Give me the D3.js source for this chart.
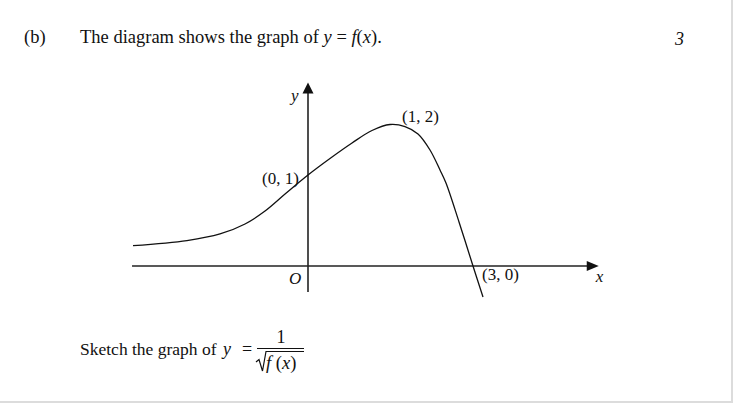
<!DOCTYPE html>
<html>
<head>
<meta charset="utf-8">
<script src="https://cdn.jsdelivr.net/npm/d3@7"></script>
<style>
  html, body { margin: 0; padding: 0; background: #fff; }
  svg { display: block; }
  text { font-family: "Liberation Serif", "DejaVu Serif", serif; fill: #111; }
</style>
</head>
<body>
<svg id="chart" width="733" height="403"></svg>
<script>
// Curve of y = f(x) as sketched (sketch is not to scale; scales are piecewise)
const curveX = [-2.134, -1.476, -1.073, -0.768, -0.524, -0.280, 0, 0.268, 0.537, 0.780, 1, 1.361, 1.675, 1.964, 2.205, 2.349, 2.663, 3, 3.241];
const curveY = [0.223, 0.280, 0.352, 0.462, 0.604, 0.791, 1, 1.327, 1.634, 1.881, 2, 1.960, 1.812, 1.495, 1.099, 0.912, 0.484, 0, -0.341];
// Key points labelled on the sketch
const keyPoints = [
  { x: 0, y: 1, label: "(0, 1)" },
  { x: 1, y: 2, label: "(1, 2)" },
  { x: 3, y: 0, label: "(3, 0)" }
];
// Axis extents (math units)
const xAxisExtent = [-2.146, 6.03];
const yAxisExtent = [-0.286, 2.83];

const svg = d3.select("#chart");

// Piecewise (poly-linear) scales, since the sketch is not drawn to scale
const x = d3.scaleLinear().domain([-3, 0, 1, 3, 7]).range([62, 308, 390, 473, 639]);
const y = d3.scaleLinear().domain([-1, 0, 1, 2, 3]).range([357, 266, 175, 124.5, 74]);

// page border (right & bottom)
svg.append("rect").attr("x", 731).attr("y", 0).attr("width", 2).attr("height", 403).attr("fill", "#dcdcdc");
svg.append("rect").attr("x", 0).attr("y", 401).attr("width", 733).attr("height", 2).attr("fill", "#dcdcdc");

// Header text
svg.append("text").attr("x", 24).attr("y", 43).style("font-size", "18.5px").text("(b)");
const t = svg.append("text").attr("x", 80).attr("y", 43).style("font-size", "18.5px");
t.append("tspan").text("The diagram shows the graph of ");
t.append("tspan").style("font-style", "italic").text("y");
t.append("tspan").text(" = ");
t.append("tspan").style("font-style", "italic").text("f");
t.append("tspan").text("(");
t.append("tspan").style("font-style", "italic").text("x");
t.append("tspan").text(").");
svg.append("text").attr("x", 675).attr("y", 45).style("font-size", "18px").style("font-style", "italic").text("3");

// Axes
const x0 = x(xAxisExtent[0]), x1 = x(xAxisExtent[1]);
const y0 = y(yAxisExtent[0]), y1 = y(yAxisExtent[1]);
svg.append("line").attr("x1", x0).attr("x2", x1 - 8).attr("y1", y(0)).attr("y2", y(0))
  .attr("stroke", "#222").attr("stroke-width", 1.4);
svg.append("line").attr("x1", x(0)).attr("x2", x(0)).attr("y1", y0).attr("y2", y1 + 8)
  .attr("stroke", "#222").attr("stroke-width", 1.6);
// arrowheads
svg.append("path")
  .attr("d", `M${x1},${y(0)} L${x1 - 12},${y(0) - 5} L${x1 - 12},${y(0) + 5} Z`)
  .attr("fill", "#111");
svg.append("path")
  .attr("d", `M${x(0)},${y1} L${x(0) - 5.5},${y1 + 11} L${x(0) + 5.5},${y1 + 11} Z`)
  .attr("fill", "#111");

// Curve
const pts = curveX.map((d, i) => [d, curveY[i]]);
const line = d3.line().x(d => x(d[0])).y(d => y(d[1])).curve(d3.curveCatmullRom.alpha(0.5));
svg.append("path").datum(pts).attr("d", line)
  .attr("fill", "none").attr("stroke", "#111").attr("stroke-width", 1.3);

// Axis labels
svg.append("text").attr("x", x(0) - 17).attr("y", y1 + 18).style("font-size", "17px").style("font-style", "italic").text("y");
svg.append("text").attr("x", x1 - 3).attr("y", y(0) + 16).style("font-size", "17px").style("font-style", "italic").text("x");
svg.append("text").attr("x", x(0) - 19).attr("y", y(0) + 18).style("font-size", "17px").style("font-style", "italic").text("O");

// Point labels
const lblOffsets = { "(0, 1)": [-46, 9], "(1, 2)": [12, -3], "(3, 0)": [9, 14] };
keyPoints.forEach(p => {
  const o = lblOffsets[p.label];
  svg.append("text").attr("x", x(p.x) + o[0]).attr("y", y(p.y) + o[1])
    .style("font-size", "17px").text(p.label);
});

// Bottom question
svg.append("text").attr("x", 80).attr("y", 355).style("font-size", "17.5px").text("Sketch the graph of");
svg.append("text").attr("x", 223).attr("y", 355).style("font-size", "18px").style("font-style", "italic").text("y");
svg.append("text").attr("x", 242).attr("y", 355).style("font-size", "18px").text("=");
// fraction
svg.append("text").attr("x", 281).attr("y", 343).attr("text-anchor", "middle").style("font-size", "18px").text("1");
svg.append("line").attr("x1", 257).attr("x2", 304).attr("y1", 348.5).attr("y2", 348.5).attr("stroke", "#111").attr("stroke-width", 1);
// radical sign
svg.append("path").attr("d", "M256,362 L259,359.5 L262.5,371 L266,351.5 L304,351.5")
  .attr("fill", "none").attr("stroke", "#111").attr("stroke-width", 1.2);
const r = svg.append("text").attr("x", 266).attr("y", 369).style("font-size", "18.5px");
r.append("tspan").style("font-style", "italic").text("f");
r.append("tspan").text(" (");
r.append("tspan").style("font-style", "italic").text("x");
r.append("tspan").text(")");
</script>
</body>
</html>
